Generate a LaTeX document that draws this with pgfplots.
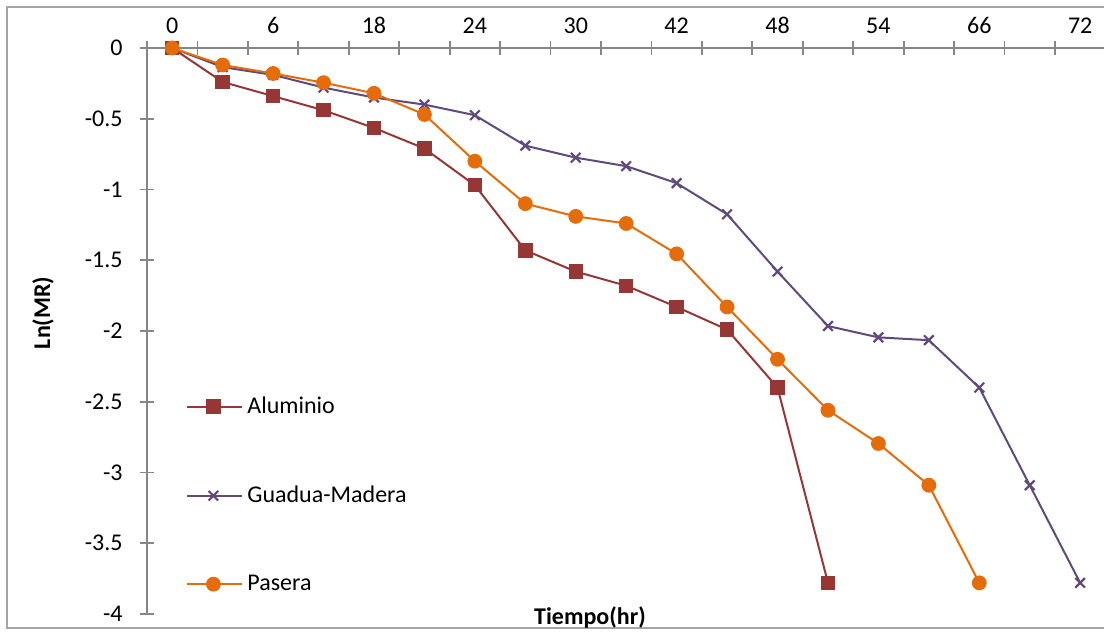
\documentclass[border=0pt]{standalone}
\usepackage{pgfplots}
\pgfplotsset{compat=1.18}
\usepackage{fontspec}
\setmainfont{Carlito}
\definecolor{alu}{RGB}{149,55,53}
\definecolor{gua}{RGB}{96,74,123}
\definecolor{pas}{RGB}{228,108,10}
\definecolor{axgray}{RGB}{134,134,134}
\definecolor{bordergray}{RGB}{165,165,165}
\begin{document}
\fontsize{12}{14.4}\selectfont
\begin{tikzpicture}
\useasboundingbox (-73.5pt,-9pt) rectangle (478.5pt,307pt);
\draw[bordergray, line width=1pt] (-70pt,-7pt) rectangle (495pt,303.5pt);
\begin{axis}[
  at={(0,0)}, anchor=south west,
  scale only axis, width=479.2pt, height=283pt,
  xmin=-0.5, xmax=18.5, ymin=-4, ymax=0,
  clip=false,
  axis x line*=top, axis y line*=left,
  axis line style={axgray, line width=0.9pt},
  every tick/.style={axgray, line width=0.9pt},
  every minor tick/.style={axgray, line width=0.9pt},
  tick align=center,
  major tick length=0pt,
  minor tick length=7pt,
  xtick={0,2,...,18},
  xticklabels={0,6,18,24,30,42,48,54,66,72},
  minor xtick={-0.5,0.5,...,18.5},
  xticklabel style={yshift=3pt},
  ytick={-4,-3.5,-3,-2.5,-2,-1.5,-1,-0.5,0},
  yticklabels={-4,-3.5,-3,-2.5,-2,-1.5,-1,-0.5,0},
  minor ytick={-4,-3.5,-3,-2.5,-2,-1.5,-1,-0.5,0},
  yticklabel style={xshift=-8pt},
  tick label style={text=black},
  legend cell align=left,
  legend style={draw=none, fill=none, at={(axis description cs:0.0407,0.392)}, anchor=north west,
    row sep=30.4pt, inner sep=0pt, nodes={inner sep=2pt}},
  legend image code/.code={\draw[mark repeat=2,mark phase=2] plot coordinates {(0pt,0pt) (13pt,0pt) (26pt,0pt)}; \path (26pt,0pt) -- (27.5pt,0pt);},
]
\addplot[alu, line width=1pt, mark=square*, mark size=3.1pt, mark options={solid, fill=alu}] coordinates {
(0,0) (1,-0.24) (2,-0.34) (3,-0.44) (4,-0.565) (5,-0.71) (6,-0.97) (7,-1.43) (8,-1.58) (9,-1.68) (10,-1.83) (11,-1.99) (12,-2.40) (13,-3.78)};
\addlegendentry{Aluminio}
\addplot[gua, line width=1pt, mark=x, mark size=3.4pt, mark options={solid, line width=1.1pt}] coordinates {
(0,0) (1,-0.135) (2,-0.19) (3,-0.28) (4,-0.35) (5,-0.40) (6,-0.475) (7,-0.69) (8,-0.775) (9,-0.835) (10,-0.955) (11,-1.175) (12,-1.58) (13,-1.965) (14,-2.045) (15,-2.065) (16,-2.40) (17,-3.09) (18,-3.78)};
\addlegendentry{Guadua-Madera}
\addplot[pas, line width=1pt, mark=*, mark size=3.2pt, mark options={solid, fill=pas}] coordinates {
(0,0) (1,-0.12) (2,-0.18) (3,-0.245) (4,-0.32) (5,-0.47) (6,-0.80) (7,-1.10) (8,-1.19) (9,-1.24) (10,-1.455) (11,-1.83) (12,-2.20) (13,-2.56) (14,-2.795) (15,-3.09) (16,-3.78)};
\addlegendentry{Pasera}
\node[font=\bfseries, rotate=90] at (axis description cs:-0.1085,0.532) {Ln(MR)};
\node[font=\bfseries] at (axis description cs:0.4622,-0.0053) {Tiempo(hr)};
\end{axis}
\end{tikzpicture}
\end{document}
